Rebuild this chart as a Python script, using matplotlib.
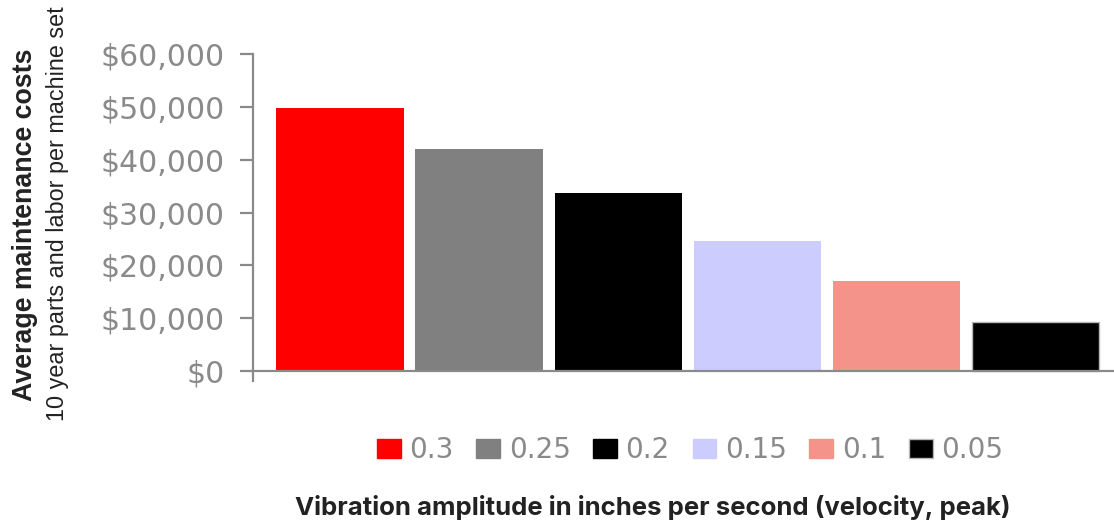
import matplotlib
matplotlib.use("Agg")
import matplotlib.pyplot as plt
from matplotlib.patches import Patch

categories = ["0.3", "0.25", "0.2", "0.15", "0.1", "0.05"]
costs = [49800, 42000, 33700, 24600, 17000, 9200]
colors = ["#ff0000", "#808080", "#000000", "#ccccff", "#f4938a", "#000000"]
edges = ["none", "none", "none", "none", "none", "#b8b8b8"]
yticks = [0, 10000, 20000, 30000, 40000, 50000, 60000]
ytick_labels = ["$0", "$10,000", "$20,000", "$30,000", "$40,000", "$50,000", "$60,000"]

plt.rcParams['font.family'] = ['Liberation Sans', 'DejaVu Sans']

W, H = 1114, 523
fig = plt.figure(figsize=(W / 100, H / 100), dpi=100)
ax = fig.add_axes([253 / W, 1 - 381 / H, 1 - 253 / W, (381 - 54) / H])

x = list(range(len(categories)))
for i in x:
    ax.bar(i, costs[i], width=0.914, color=colors[i],
           edgecolor=edges[i], linewidth=1.0 if edges[i] != "none" else 0, zorder=2)

ax.set_xlim(-0.626, 5.568)
ax.set_ylim(-1890, 60000)
ax.spines['top'].set_visible(False)
ax.spines['right'].set_visible(False)
ax.spines['bottom'].set_position(('data', 0))
for s in ('left', 'bottom'):
    ax.spines[s].set_color('#8a8a8a')
    ax.spines[s].set_linewidth(1.6)
ax.spines['bottom'].set_zorder(3)
ax.set_xticks([])
ax.set_yticks(yticks)
ax.set_yticklabels(ytick_labels, family=['DejaVu Sans'])
ax.tick_params(axis='y', length=9.4, width=1.6, color='#8a8a8a',
               labelcolor='#8a8a8a', labelsize=21.5, pad=11)

handles = [Patch(facecolor=c, edgecolor=(e if e != "none" else c), linewidth=1)
           for c, e in zip(colors, edges)]
fig.legend(handles, categories, loc='center', bbox_to_anchor=(690 / W, 1 - 450 / H),
           ncol=6, frameon=False, labelcolor='#8a8a8a',
           prop={'family': ['DejaVu Sans'], 'size': 20},
           handlelength=0.86, handleheight=0.68, handletextpad=0.3,
           columnspacing=0.82, borderpad=0)

fig.text(25 / W, 1 - 225 / H, "Average maintenance costs", rotation=90,
         ha='center', va='center', fontsize=19.3, fontweight='bold', color='#222222')
fig.text(58 / W, 1 - 214 / H, "10 year parts and labor per machine set", rotation=90,
         ha='center', va='center', fontsize=16.8, color='#222222')
fig.text(653 / W, 1 - 507 / H, "Vibration amplitude in inches per second (velocity, peak)",
         ha='center', va='center', fontsize=18.5, fontweight='bold', color='#222222',
         family=['Inter', 'DejaVu Sans'])

fig.savefig("out.png", dpi=100)
